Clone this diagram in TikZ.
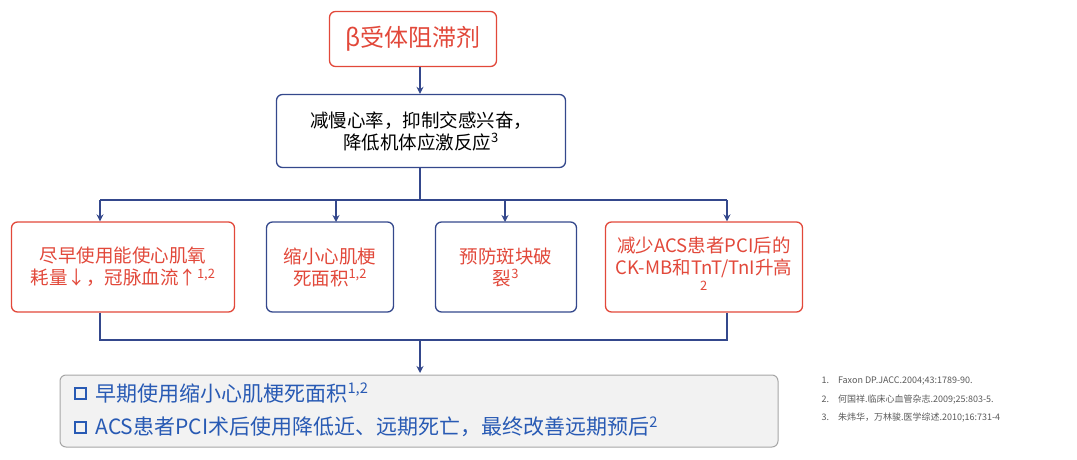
\documentclass[tikz,border=0pt]{standalone}
\usepackage{fontspec}
\setmainfont{Noto Sans CJK SC}[BoldFont={Noto Sans CJK SC Bold}]
\usetikzlibrary{arrows.meta}
\definecolor{rd}{RGB}{226,72,58}
\definecolor{bl}{RGB}{52,72,140}
\definecolor{tb}{RGB}{40,90,180}
\newcommand{\supx}[1]{\textsuperscript{#1}}
\tikzset{
 rbox/.style={draw=rd,line width=1.3pt,rounded corners=6pt,fill=white,text=rd,align=center,font=\fontsize{18.5}{22}\selectfont},
 bbox/.style={draw=bl,line width=1.3pt,rounded corners=6pt,fill=white,text=rd,align=center,font=\fontsize{18.5}{22}\selectfont},
 ln/.style={draw=bl,line width=1.5pt},
 ar/.style={ln,-{Stealth[length=7pt,width=7pt]}},
 ref/.style={anchor=west,text=black!65,font=\fontsize{9}{11}\selectfont},
 bul/.style={anchor=west,text=tb,font=\fontsize{21}{25}\selectfont}
}
\begin{document}
\begin{tikzpicture}[x=1pt,y=-1pt]
\useasboundingbox (0,0) rectangle (1077,460);
\node[rbox,minimum width=167,minimum height=55,font=\fontsize{24}{28}\selectfont] (t) at (413,39) {β受体阻滞剂};
\node[bbox,text=black,minimum width=289,minimum height=73] (m) at (421,131) {减慢心率，抑制交感兴奋，\\降低机体应激反应\supx{3}};
\draw[ar] (t.south -| 420,0) -- (m.north -| 420,0);
\node[rbox,minimum width=223,minimum height=90] (b1) at (123,267) {尽早使用能使心肌氧\\耗量↓，冠脉血流↑\supx{1,2}};
\node[bbox,minimum width=127,minimum height=90] (b2) at (330,267) {缩小心肌梗\\死面积\supx{1,2}};
\node[bbox,minimum width=141,minimum height=90] (b3) at (506,267) {预防斑块破\\裂\supx{3}};
\node[rbox,minimum width=197,minimum height=90] (b4) at (704,267) {减少ACS患者PCI后的\\CK-MB和TnT/TnI升高\\\supx{2}};
\coordinate (j1) at (420,200);
\coordinate (l1) at (100,200);
\coordinate (r1) at (727,200);
\draw[ln] (m.south -| j1) -- (j1);
\draw[ln] (l1) -- (r1);
\draw[ar] (l1) -- (l1 |- b1.north);
\draw[ar] (336,200) -- (336,222);
\draw[ar] (505,200) -- (505,222);
\draw[ar] (r1) -- (r1 |- b4.north);
\node[draw=black!35,line width=1pt,fill=black!5,rounded corners=6pt,minimum width=718,minimum height=72] (bot) at (419,411) {};
\coordinate (l2) at (100,340);
\coordinate (r2) at (727,340);
\draw[ln] (l2 |- b1.south) -- (l2) -- (r2) -- (r2 |- b4.south);
\draw[ar] (420,340) -- (420,373);
\node[draw=tb,line width=2pt,minimum size=11pt,inner sep=0] (s1) at (80,393) {};
\node[draw=tb,line width=2pt,minimum size=11pt,inner sep=0] (s2) at (80,427) {};
\node[bul] (p1) at (92,393) {早期使用缩小心肌梗死面积\supx{1,2}};
\node[bul] (p2) at (92,427) {ACS患者PCI术后使用降低近、远期死亡，最终改善远期预后\supx{2}};
\node[ref] (r1n) at (818,381) {1.\quad Faxon DP.JACC.2004;43:1789-90.};
\node[ref] (r2n) at (818,400) {2.\quad 何国祥.临床心血管杂志.2009;25:803-5.};
\node[ref] (r3n) at (818,418) {3.\quad 朱炜华，万林骏.医学综述.2010;16:731-4};
\end{tikzpicture}
\end{document}
